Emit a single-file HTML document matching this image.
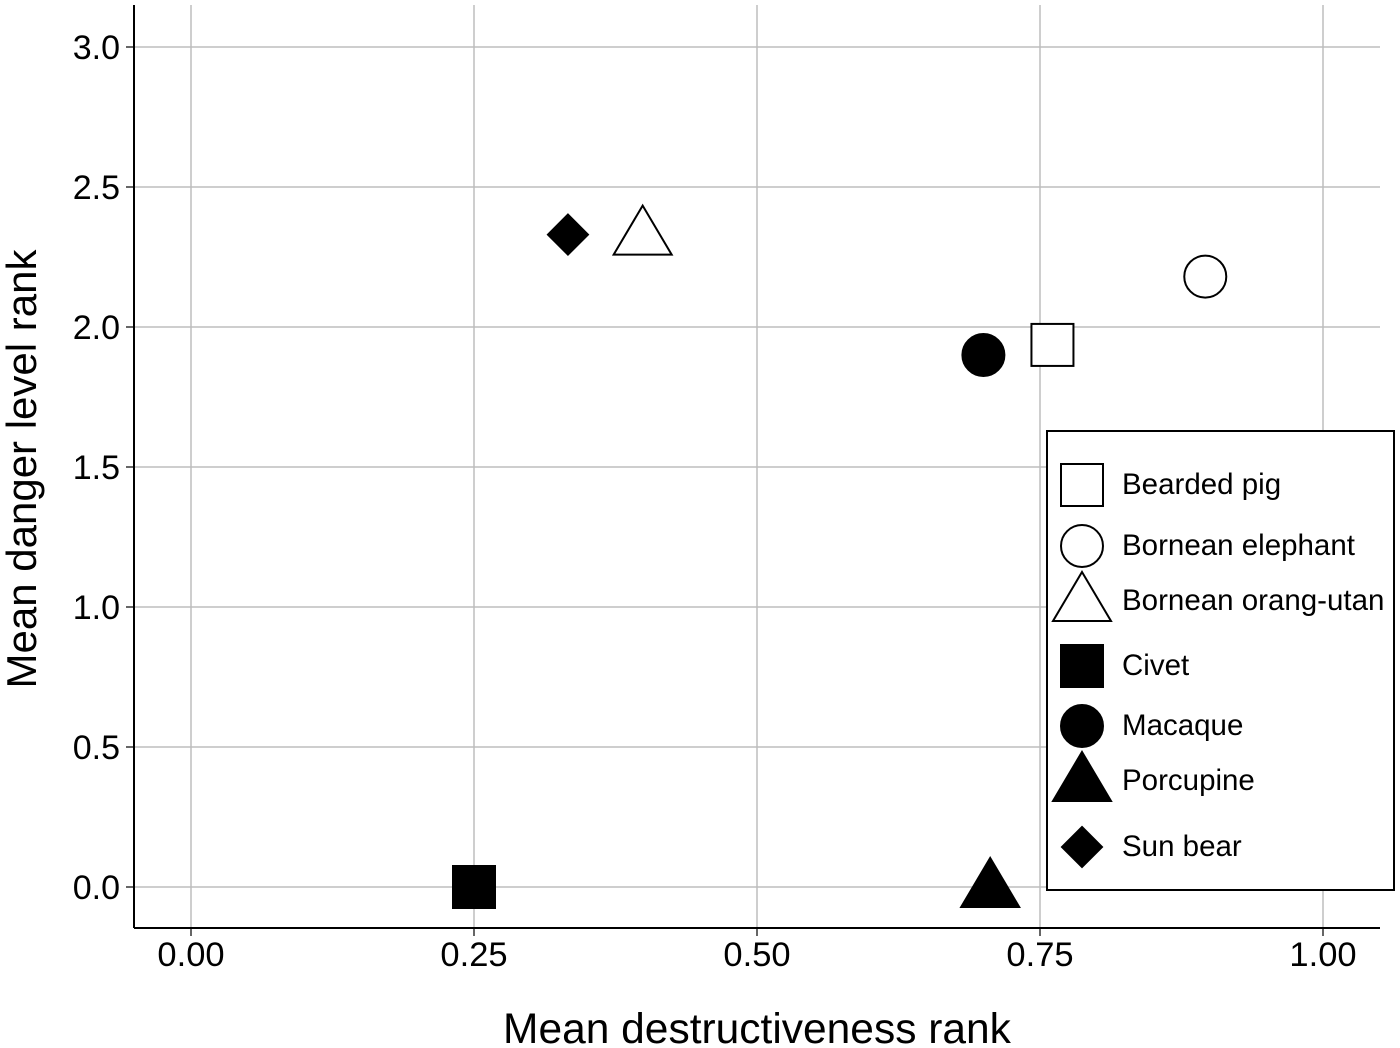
<!DOCTYPE html>
<html><head><meta charset="utf-8"><style>
html,body{margin:0;padding:0;background:#fff;}
svg{display:block;font-family:"Liberation Sans",Arial,sans-serif;}
</style></head><body>
<svg id="chart" width="1400" height="1048" viewBox="0 0 1400 1048" xmlns="http://www.w3.org/2000/svg">
<g id="grid"></g>
<g id="marks"></g>
<g id="axes"></g>
<text x="757" y="1043" font-size="42.5" text-anchor="middle">Mean destructiveness rank</text>
<text transform="translate(36,469) rotate(-90)" font-size="42" text-anchor="middle">Mean danger level rank</text>
<g id="legend"></g>
</svg>
<script>
const species = ["Bearded pig","Bornean elephant","Bornean orang-utan","Civet","Macaque","Porcupine","Sun bear"];
const shapes = ["square-open","circle-open","triangle-open","square","circle","triangle","diamond"];
const xValues = [0.761,0.896,0.399,0.25,0.70,0.706,0.333];
const yValues = [1.936,2.18,2.33,0.0,1.9,0.0,2.33];
const xTicks = [0,0.25,0.5,0.75,1.0];
const xTickLabels = ["0.00","0.25","0.50","0.75","1.00"];
const yTicks = [0,0.5,1.0,1.5,2.0,2.5,3.0];
const yTickLabels = ["0.0","0.5","1.0","1.5","2.0","2.5","3.0"];

const NS="http://www.w3.org/2000/svg";
const L=134,R=1380,T=5,B=928;
const xs=v=>191+v*1132;
const ys=v=>887-v*280;
function mk(tag,attrs,parent){const e=document.createElementNS(NS,tag);for(const k in attrs)e.setAttribute(k,attrs[k]);parent.appendChild(e);return e;}
const grid=document.getElementById('grid'),axes=document.getElementById('axes'),marks=document.getElementById('marks'),legend=document.getElementById('legend');
xTicks.forEach((t,i)=>{
  const g=mk('line',{x1:xs(t),x2:xs(t),y1:T,y2:B,stroke:'#bdbdbd','stroke-width':1.5},grid);
  
  
  const tk=mk('line',{x1:xs(t),x2:xs(t),y1:B,y2:B+8,stroke:'#333','stroke-width':1.5},axes);
  
  
  const tx=mk('text',{x:xs(t),y:966,'font-size':34.5,'text-anchor':'middle',fill:'#000'},axes);
  tx.textContent=xTickLabels[i];
  
  
});
yTicks.forEach((t,i)=>{
  const g=mk('line',{x1:L,x2:R,y1:ys(t),y2:ys(t),stroke:'#bdbdbd','stroke-width':1.5},grid);
  
  
  const tk=mk('line',{x1:L-8,x2:L,y1:ys(t),y2:ys(t),stroke:'#333','stroke-width':1.5},axes);
  
  
  const tx=mk('text',{x:120,y:ys(t)+12,'font-size':34,'text-anchor':'end',fill:'#000'},axes);
  tx.textContent=yTickLabels[i];
  
  
});
const ax1=mk('line',{x1:L,x2:L,y1:T,y2:B,stroke:'#000','stroke-width':2},axes);


const ax2=mk('line',{x1:L,x2:R,y1:B,y2:B,stroke:'#000','stroke-width':2},axes);



function shape(kind,cx,cy,parent){
  const open=kind.endsWith('-open');
  const fill=open?'#fff':'#000';
  const st={fill:fill,stroke:'#000','stroke-width':2};
  let e;
  if(kind.startsWith('square')) e=mk('rect',Object.assign({x:cx-21,y:cy-21,width:42,height:42},st),parent);
  else if(kind.startsWith('circle')) e=mk('circle',Object.assign({cx:cx,cy:cy,r:21},st),parent);
  else if(kind.startsWith('triangle')) e=mk('polygon',Object.assign({points:`${cx},${cy-29} ${cx+29},${cy+20} ${cx-29},${cy+20}`},st),parent);
  else e=mk('polygon',Object.assign({points:`${cx},${cy-20} ${cx+20},${cy} ${cx},${cy+20} ${cx-20},${cy}`},st),parent);
  return e;
}
species.forEach((s,i)=>{
  const e=shape(shapes[i],xs(xValues[i]),ys(yValues[i]),marks);
  
  
});
const box=mk('rect',{x:1047,y:431,width:347,height:459,fill:'#fff',stroke:'#000','stroke-width':2},legend);


const ly=[485,546,601,666,726,781,847];
species.forEach((s,i)=>{
  const e=shape(shapes[i],1082,ly[i],legend);
  
  
  const t=mk('text',{x:1122,y:ly[i]+9,'font-size':29.5,fill:'#000'},legend);
  t.textContent=s;
  
  
});
</script>
</body></html>
